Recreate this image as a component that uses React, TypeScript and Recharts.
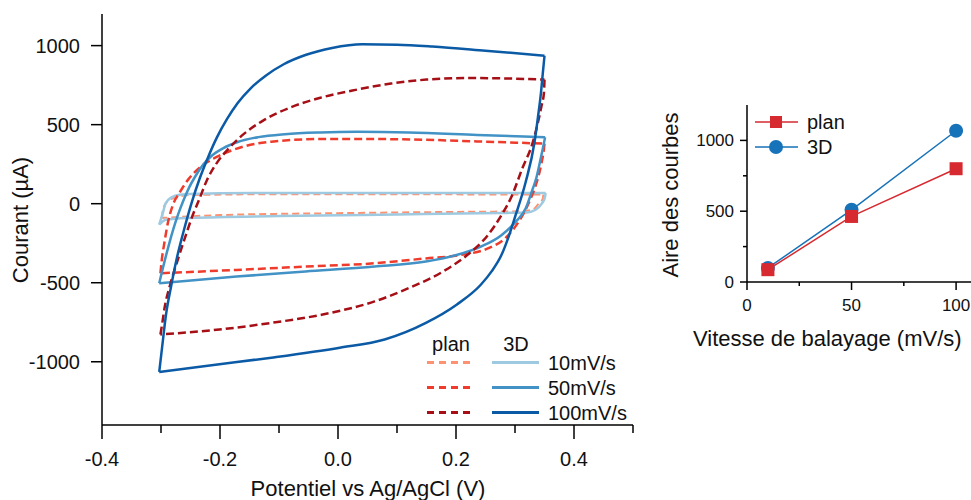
import React from "react";
import { LineChart, Line, XAxis, YAxis, Legend } from "recharts";

const FONT = '"Liberation Sans", Arial, sans-serif';

// cyclic voltammograms: potential (V) / current (µA), traced round each loop
const plan10V = [-0.298, -0.297, -0.29, -0.275, -0.25, -0.1, 0.1, 0.3, 0.348, 0.347, 0.34, 0.33, 0.31, 0.2, 0.0, -0.2, -0.298];
const plan10I = [-90, -40, 10, 40, 55, 60, 60, 58, 58, 30, 0, -38, -48, -52, -60, -72, -90];

const d3_10V = [-0.303, -0.297, -0.292, -0.282, -0.269, -0.2, 0.0, 0.2, 0.352, 0.35, 0.346, 0.335, 0.32, 0.273, 0.1, -0.1, -0.25, -0.292, -0.303];
const d3_10I = [-133, -60, 4, 40, 57, 66, 68, 68, 68, 30, 4, -38, -55, -59, -68, -78, -90, -101, -133];

const plan50V = [-0.301, -0.299, -0.294, -0.288, -0.28, -0.268, -0.253, -0.23, -0.201, -0.16, -0.113, -0.02, 0.1, 0.236, 0.35,
  0.349, 0.344, 0.335, 0.324, 0.306, 0.283, 0.254, 0.207, 0.149, 0.062, -0.055, -0.172, -0.301];
const plan50I = [-440, -366, -241, -115, -10, 73, 157, 241, 304, 362, 392, 410, 408, 394, 380,
  346, 241, 115, 10, -115, -220, -283, -325, -346, -377, -398, -419, -440];

const d3_50V = [-0.303, -0.299, -0.294, -0.287, -0.279, -0.271, -0.262, -0.252, -0.242, -0.23, -0.215, -0.195, -0.17, -0.135, -0.09, -0.03, 0.032, 0.12, 0.236, 0.351,
  0.347, 0.341, 0.336, 0.33, 0.318, 0.301, 0.277, 0.242, 0.201, 0.149, 0.062, -0.055, -0.172, -0.303];
const d3_50I = [-503, -440, -365, -265, -160, -68, 20, 105, 172, 240, 300, 350, 390, 421, 440, 451, 455, 451, 435, 420,
  346, 241, 160, 94, -31, -115, -199, -272, -325, -366, -398, -429, -461, -503];

const plan100V = [-0.301, -0.298, -0.294, -0.285, -0.272, -0.258, -0.245, -0.236, -0.222, -0.205, -0.185, -0.16, -0.125, -0.08, -0.03, 0.03, 0.09, 0.15, 0.22, 0.29, 0.35,
  0.349, 0.345, 0.338, 0.33, 0.312, 0.295, 0.277, 0.254, 0.219, 0.178, 0.12, 0.062, -0.026, -0.113, -0.201, -0.301];
const plan100I = [-827, -760, -660, -520, -360, -200, -60, 20, 150, 260, 350, 440, 530, 610, 670, 720, 760, 785, 795, 792, 785,
  700, 620, 500, 387, 220, 52, -73, -199, -325, -429, -534, -618, -701, -754, -796, -827];

const d3_100V = [-0.303, -0.298, -0.292, -0.283, -0.273, -0.261, -0.248, -0.234, -0.22, -0.205, -0.188, -0.17, -0.148, -0.122, -0.092, -0.054, -0.01, 0.041, 0.1, 0.16, 0.25, 0.35,
  0.347, 0.344, 0.339, 0.333, 0.318, 0.301, 0.29, 0.277, 0.26, 0.242, 0.201, 0.149, 0.079, 0.003, -0.113, -0.201, -0.303];
const d3_100I = [-1064, -904, -715, -525, -342, -165, 7, 164, 296, 421, 536, 637, 730, 811, 882, 942, 985, 1008, 1006, 995, 968, 936,
  820, 701, 550, 387, 136, -73, -200, -325, -430, -513, -639, -754, -859, -911, -974, -1016, -1064];

const potentialTicks = [-0.4, -0.3, -0.2, -0.1, 0, 0.1, 0.2, 0.3, 0.4, 0.5];
const currentTicks = [-1000, -500, 0, 500, 1000];

// inset: loop area vs scan rate
const scanRates = [10, 50, 100];
const areaPlan = [87, 463, 800];
const area3D = [99, 510, 1068];
const rateTicks = [0, 25, 50, 75, 100];
const areaTicks = [0, 250, 500, 750, 1000];

// split a loop at its anodic vertex so each sweep is monotonic in V
const sweeps = (v: number[], i: number[]) => {
  const pts = v.map((x, k) => ({ v: x, i: i[k] }));
  const turn = v.indexOf(Math.max(...v));
  return [pts.slice(0, turn + 1), pts.slice(turn)];
};

const cvSeries = [
  { key: "plan10", parts: sweeps(plan10V, plan10I), color: "#fc9272", dash: "7 4", width: 2 },
  { key: "3d10", parts: sweeps(d3_10V, d3_10I), color: "#9ecae1", dash: undefined, width: 2.5 },
  { key: "plan50", parts: sweeps(plan50V, plan50I), color: "#ef3b2c", dash: "8 4", width: 2.5 },
  { key: "3d50", parts: sweeps(d3_50V, d3_50I), color: "#4292c6", dash: undefined, width: 2.5 },
  { key: "plan100", parts: sweeps(plan100V, plan100I), color: "#a50f15", dash: "8 4", width: 2.5 },
  { key: "3d100", parts: sweeps(d3_100V, d3_100I), color: "#0b5aa6", dash: undefined, width: 2.5 },
];

const insetData = scanRates.map((r, k) => ({ rate: r, plan: areaPlan[k], d3: area3D[k] }));

const RED = "#d62a30";
const BLUE = "#1672b9";

const CvXTick = ({ x, y, payload }: any) => {
  const v = payload.value;
  const major = Math.round(v * 10) % 2 === 0;
  return (
    <g>
      <line x1={x} x2={x} y1={y} y2={y + (major ? 14 : 8)} stroke="#000" strokeWidth={1.5} />
      {major && (
        <text x={x} y={y + 41} textAnchor="middle" fontSize={20} fontFamily={FONT} fill="#111">
          {v.toFixed(1)}
        </text>
      )}
    </g>
  );
};

const InsetXTick = ({ x, y, payload }: any) => {
  const major = payload.value % 50 === 0;
  return (
    <g>
      <line x1={x} x2={x} y1={y} y2={y + (major ? 8 : 4)} stroke="#000" strokeWidth={1.5} />
      {major && (
        <text x={x} y={y + 29} textAnchor="middle" fontSize={17} fontFamily={FONT} fill="#111">
          {payload.value}
        </text>
      )}
    </g>
  );
};

const InsetYTick = ({ x, y, payload }: any) => {
  const major = payload.value % 500 === 0;
  return (
    <g>
      <line x1={x} x2={x - (major ? 7 : 4)} y1={y} y2={y} stroke="#000" strokeWidth={1.5} />
      {major && (
        <text x={x - 13} y={y + 6} textAnchor="end" fontSize={17} fontFamily={FONT} fill="#111">
          {payload.value}
        </text>
      )}
    </g>
  );
};

// axis title at a fixed spot in chart coordinates
const Title = ({ tx, ty, text, rotate, anchor }: any) => (
  <text
    x={tx}
    y={ty}
    textAnchor={anchor || "middle"}
    transform={rotate ? `rotate(-90 ${tx} ${ty})` : undefined}
    fontSize={22}
    fontFamily={FONT}
    fill="#111"
  >
    {text}
  </text>
);

const CvLegend = () => {
  const rows = [
    { label: "10mV/s", plan: "#fc9272", d3: "#9ecae1" },
    { label: "50mV/s", plan: "#ef3b2c", d3: "#4292c6" },
    { label: "100mV/s", plan: "#a50f15", d3: "#0b5aa6" },
  ];
  return (
    <svg width={220} height={95} style={{ display: "block" }}>
      <text x={31} y={21} textAnchor="middle" fontSize={20} fontFamily={FONT} fill="#111">plan</text>
      <text x={96} y={21} textAnchor="middle" fontSize={20} fontFamily={FONT} fill="#111">3D</text>
      {rows.map((r, k) => {
        const yy = 32.5 + k * 25;
        return (
          <g key={r.label}>
            <line x1={7} x2={51} y1={yy} y2={yy} stroke={r.plan} strokeWidth={3} strokeDasharray="7 5" />
            <line x1={72} x2={119} y1={yy} y2={yy} stroke={r.d3} strokeWidth={3} />
            <text x={128} y={yy + 7} fontSize={20} fontFamily={FONT} fill="#111">{r.label}</text>
          </g>
        );
      })}
    </svg>
  );
};

const InsetLegend = () => (
  <svg width={100} height={52} style={{ display: "block" }}>
    <line x1={0} x2={43} y1={14} y2={14} stroke={RED} strokeWidth={1.5} />
    <rect x={15} y={8} width={12} height={12} fill={RED} />
    <text x={52} y={21} fontSize={20} fontFamily={FONT} fill="#111">plan</text>
    <line x1={0} x2={43} y1={39} y2={39} stroke={BLUE} strokeWidth={1.5} />
    <circle cx={21} cy={39} r={7} fill={BLUE} />
    <text x={52} y={46} fontSize={20} fontFamily={FONT} fill="#111">3D</text>
  </svg>
);

const frame = { stroke: "#000", strokeWidth: 1.5 };

export default function App() {
  return (
    <div
      style={{
        position: "absolute",
        left: 0,
        top: 0,
        width: 971,
        height: 500,
        overflow: "hidden",
        background: "#fff",
        fontFamily: FONT,
      }}
    >
      <div style={{ position: "absolute", left: 0, top: 0 }}>
        <LineChart width={640} height={500} margin={{ top: 14, right: 7, bottom: 0, left: 0 }}>
          <XAxis
            xAxisId="b"
            type="number"
            dataKey="v"
            domain={[-0.4, 0.5]}
            ticks={potentialTicks}
            interval={0}
            height={75}
            axisLine={frame}
            tickLine={false}
            tickSize={0}
            tickMargin={0}
            tick={<CvXTick />}
            label={<Title tx={368} ty={496} text="Potentiel vs Ag/AgCl (V)" />}
          />
          <XAxis xAxisId="t" orientation="top" type="number" domain={[-0.4, 0.5]} height={0} axisLine={frame} tick={false} tickLine={false} />
          <YAxis
            yAxisId="l"
            type="number"
            dataKey="i"
            domain={[-1400, 1200]}
            ticks={currentTicks}
            interval={0}
            width={102}
            axisLine={frame}
            tickLine={{ stroke: "#000", strokeWidth: 1.5 }}
            tickSize={11}
            tickMargin={11}
            tick={{ fontSize: 20, fontFamily: FONT, fill: "#111" }}
            label={<Title tx={28} ty={220} text="Courant (µA)" rotate />}
          />
          <YAxis yAxisId="r" orientation="right" type="number" domain={[-1400, 1200]} width={0} axisLine={frame} tick={false} tickLine={false} />
          {cvSeries.flatMap((s) =>
            s.parts.map((part, k) => (
              <Line
                key={`${s.key}-${k}`}
                xAxisId="b"
                yAxisId="l"
                data={part}
                dataKey="i"
                type="monotone"
                stroke={s.color}
                strokeWidth={s.width}
                strokeDasharray={s.dash}
                dot={false}
                activeDot={false}
                isAnimationActive={false}
              />
            ))
          )}
          <Legend
            layout="vertical"
            align="center"
            verticalAlign="middle"
            wrapperStyle={{ position: "absolute", left: 420, top: 330, width: 220, height: 95 }}
            content={() => <CvLegend />}
          />
        </LineChart>
      </div>

      <div style={{ position: "absolute", left: 640, top: 0 }}>
        <LineChart width={345} height={360} data={insetData} margin={{ top: 105, right: 8, bottom: 0, left: 0 }}>
          <XAxis
            xAxisId="b"
            type="number"
            dataKey="rate"
            domain={[0, 110]}
            ticks={rateTicks}
            interval={0}
            height={78}
            axisLine={frame}
            tickLine={false}
            tickSize={0}
            tickMargin={0}
            tick={<InsetXTick />}
            label={<Title tx={53} ty={346} text="Vitesse de balayage (mV/s)" anchor="start" />}
          />
          <XAxis xAxisId="t" orientation="top" type="number" domain={[0, 110]} height={0} axisLine={frame} tick={false} tickLine={false} />
          <YAxis
            yAxisId="l"
            type="number"
            domain={[0, 1250]}
            ticks={areaTicks}
            interval={0}
            width={107}
            axisLine={frame}
            tickLine={false}
            tickSize={0}
            tickMargin={0}
            tick={<InsetYTick />}
            label={<Title tx={38} ty={195} text="Aire des courbes" rotate />}
          />
          <YAxis yAxisId="r" orientation="right" type="number" domain={[0, 1250]} width={0} axisLine={frame} tick={false} tickLine={false} />
          <Line
            xAxisId="b"
            yAxisId="l"
            dataKey="d3"
            type="linear"
            stroke={BLUE}
            strokeWidth={1.5}
            dot={{ r: 7, fill: BLUE, stroke: BLUE, strokeWidth: 0 }}
            activeDot={false}
            isAnimationActive={false}
          />
          <Line
            xAxisId="b"
            yAxisId="l"
            dataKey="plan"
            type="linear"
            stroke={RED}
            strokeWidth={1.5}
            dot={(p: any) => <rect key={`sq-${p.index}`} x={p.cx - 6.5} y={p.cy - 6.5} width={13} height={13} fill={RED} />}
            activeDot={false}
            isAnimationActive={false}
          />
          <Legend
            layout="vertical"
            align="center"
            verticalAlign="middle"
            wrapperStyle={{ position: "absolute", left: 115, top: 108, width: 100, height: 52 }}
            content={() => <InsetLegend />}
          />
        </LineChart>
      </div>
    </div>
  );
}
